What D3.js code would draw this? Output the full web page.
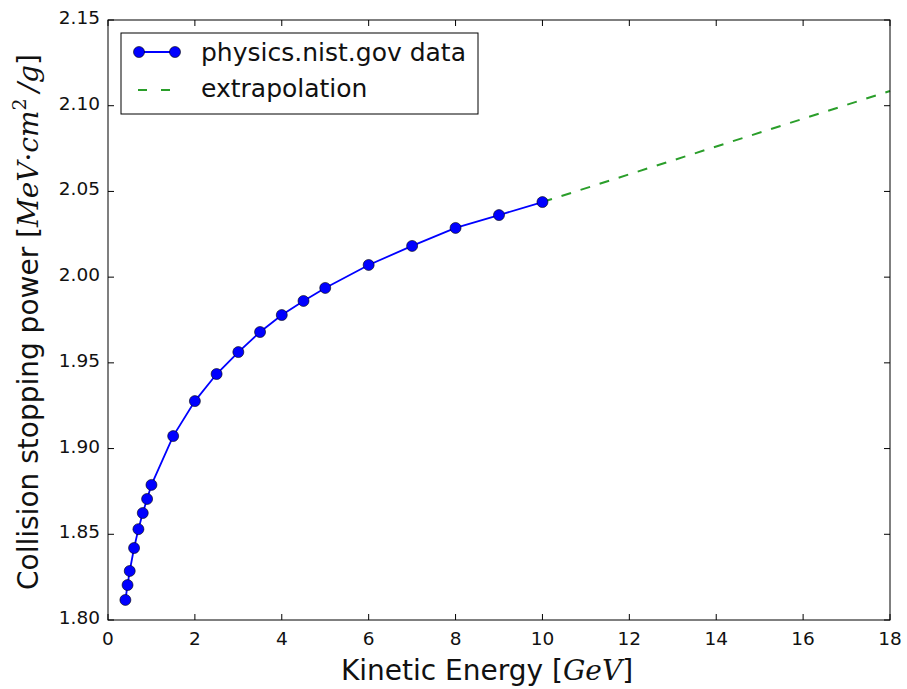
<!DOCTYPE html>
<html><head><meta charset="utf-8">
<script src="https://cdn.jsdelivr.net/npm/d3@7"></script>
<style>body{margin:0;background:#fff}text{font-family:"DejaVu Sans",sans-serif;fill:#111}</style>
</head><body><svg id="c" width="907" height="689"></svg>
<script>
const energy = [0.4,0.45,0.5,0.6,0.7,0.8,0.9,1.0,1.5,2,2.5,3,3.5,4,4.5,5,6,7,8,9,10];
const stopping = [1.8117,1.8204,1.8286,1.842,1.853,1.8624,1.8706,1.8788,1.9073,1.9277,1.9435,1.9563,1.968,1.9779,1.9861,1.9937,2.0071,2.0182,2.0287,2.0362,2.0438];
const extrapEnergy = [10,18];
const extrapValues = [2.0438,2.1086];
const xTicks = [0,2,4,6,8,10,12,14,16,18];
const yTicks = [1.80,1.85,1.90,1.95,2.00,2.05,2.10,2.15];
const seriesNames = ["physics.nist.gov data","extrapolation"];

const L=108,R=890,T=20,B=620;
const svg=d3.select("#c");
const x=d3.scaleLinear().domain([0,18]).range([L,R]);
const y=d3.scaleLinear().domain([1.80,2.15]).range([B,T]);

// ticks (inward, all sides)
const g=svg.append("g");
xTicks.forEach(t=>{
  g.append("line").attr("x1",x(t)).attr("x2",x(t)).attr("y1",B).attr("y2",B-6).attr("stroke","#000");
  g.append("line").attr("x1",x(t)).attr("x2",x(t)).attr("y1",T).attr("y2",T+6).attr("stroke","#000");
  g.append("text").attr("x",x(t)).attr("y",B+25).attr("text-anchor","middle").attr("font-size",18.5).text(t);
});
yTicks.forEach(t=>{
  g.append("line").attr("x1",L).attr("x2",L+6).attr("y1",y(t)).attr("y2",y(t)).attr("stroke","#000");
  g.append("line").attr("x1",R).attr("x2",R-6).attr("y1",y(t)).attr("y2",y(t)).attr("stroke","#000");
  g.append("text").attr("x",L-8).attr("y",y(t)+4).attr("text-anchor","end").attr("font-size",18.5).text(t.toFixed(2));
});

// extrapolation
const ext=extrapEnergy.map((e,i)=>[e,extrapValues[i]]);
svg.append("path").datum(ext).attr("d",d3.line().x(d=>x(d[0])).y(d=>y(d[1])))
  .attr("fill","none").attr("stroke","#2a9e2a").attr("stroke-width",2).attr("stroke-dasharray","10,10");

// data
const pts=energy.map((e,i)=>[e,stopping[i]]);
svg.append("path").datum(pts).attr("d",d3.line().x(d=>x(d[0])).y(d=>y(d[1])))
  .attr("fill","none").attr("stroke","#0000ff").attr("stroke-width",1.8);
svg.selectAll("circle.pt").data(pts).enter().append("circle").attr("class","pt")
  .attr("cx",d=>x(d[0])).attr("cy",d=>y(d[1])).attr("r",5.5)
  .attr("fill","#0000ff").attr("stroke","#000").attr("stroke-width",0.6);

// frame
svg.append("rect").attr("x",L).attr("y",T).attr("width",R-L).attr("height",B-T)
  .attr("fill","none").attr("stroke","#000").attr("stroke-width",1);

// legend
const lg=svg.append("g");
lg.append("rect").attr("x",121).attr("y",33).attr("width",357).attr("height",81)
  .attr("fill","#fff").attr("stroke","#000").attr("stroke-width",1);
lg.append("line").attr("x1",139).attr("x2",175).attr("y1",52).attr("y2",52).attr("stroke","#0000ff").attr("stroke-width",1.8);
[139,175].forEach(cx=>lg.append("circle").attr("cx",cx).attr("cy",52).attr("r",5.5).attr("fill","#0000ff").attr("stroke","#000").attr("stroke-width",0.6));
lg.append("line").attr("x1",138).attr("x2",178).attr("y1",90).attr("y2",90).attr("stroke","#2a9e2a").attr("stroke-width",2).attr("stroke-dasharray","9,14");
lg.append("text").attr("x",201).attr("y",61).attr("font-size",25).text(seriesNames[0]);
lg.append("text").attr("x",201).attr("y",97).attr("font-size",25).text(seriesNames[1]);

// x label
const xl=svg.append("text").attr("x",487).attr("y",680).attr("text-anchor","middle").attr("font-size",28);
xl.append("tspan").text("Kinetic Energy [");
xl.append("tspan").attr("font-family","DejaVu Serif, serif").attr("font-style","italic").text("GeV");
xl.append("tspan").text("]");

// y label
const yl=svg.append("text").attr("transform",`translate(38,${(T+B)/2+2}) rotate(-90)`).attr("text-anchor","middle").attr("font-size",28);
yl.append("tspan").text("Collision stopping power [");
yl.append("tspan").attr("font-family","DejaVu Serif, serif").attr("font-style","italic").text("MeV");
yl.append("tspan").attr("font-family","DejaVu Serif, serif").text("·");
yl.append("tspan").attr("font-family","DejaVu Serif, serif").attr("font-style","italic").text("cm");
yl.append("tspan").attr("font-family","DejaVu Serif, serif").attr("font-size",19).attr("dy",-12).text("2");
yl.append("tspan").attr("font-family","DejaVu Serif, serif").attr("font-style","italic").attr("dy",12).attr("dx",6).text("/g");
yl.append("tspan").text("]");
</script></body></html>
